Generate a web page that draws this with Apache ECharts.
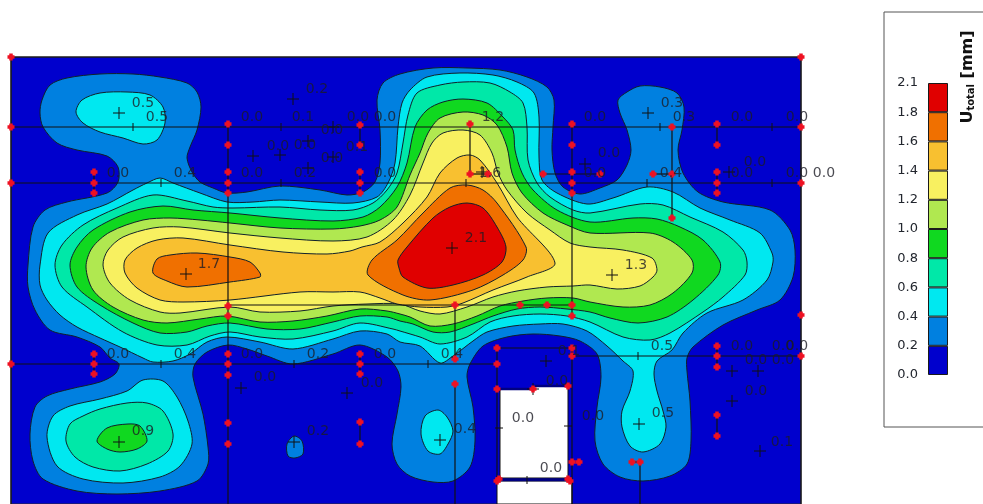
<!DOCTYPE html>
<html><head><meta charset="utf-8">
<style>html,body{margin:0;padding:0;background:#fff;overflow:hidden}#c{width:983px;height:504px;filter:blur(0.3px)}</style>
<script src="https://cdn.jsdelivr.net/npm/echarts@6/dist/echarts.min.js"></script>
</head><body><div id="c"></div>
<script>
const bandColors=['#0000cd','#0080e0','#00e8f0','#00e8a8','#10d820','#b0e850','#f8f060','#f8c030','#f07000','#e00000'];
const legendTicks=['0.0','0.2','0.4','0.6','0.8','1.0','1.2','1.4','1.6','1.8','2.1'];
const plotArea=[[[11,57],[801,57],[801,504],[11,504]]];
const level02=[
[[40,113],[42,100],[50,85],[67,78],[100,74],[133,74],[160,77],[187,83],[197,92],[201,107],[197,130],[190,147],[187,158],[192,172],[200,182],[213,188],[227,193],[247,192],[280,186],[320,190],[347,195],[363,192],[375,182],[380,163],[380,130],[377,100],[383,83],[400,74],[433,68],[467,68],[500,70],[527,77],[547,87],[554,100],[553,127],[552,150],[555,173],[563,187],[580,194],[600,188],[617,180],[627,165],[631,150],[627,130],[620,113],[618,100],[627,92],[640,86],[660,87],[677,93],[684,107],[682,130],[678,150],[683,173],[698,192],[723,202],[770,210],[790,230],[795,250],[793,277],[780,300],[757,310],[723,325],[693,347],[687,358],[687,371],[690,401],[691,441],[687,464],[670,476],[643,481],[620,477],[603,464],[595,441],[597,407],[601,377],[597,354],[580,341],[560,336],[533,334],[507,337],[483,346],[470,364],[467,377],[473,407],[475,441],[470,467],[453,481],[433,482],[410,476],[397,464],[392,444],[397,414],[401,387],[398,371],[387,357],[360,345],[333,354],[293,364],[267,356],[247,349],[228,345],[207,352],[195,364],[193,377],[203,414],[208,447],[208,464],[197,481],[160,491],[117,494],[77,491],[43,479],[33,461],[30,434],[35,407],[47,396],[70,389],[100,382],[115,374],[119,364],[110,358],[100,347],[77,337],[50,330],[35,310],[28,287],[28,265],[33,227],[45,210],[67,202],[107,193],[118,182],[118,167],[107,156],[77,150],[57,143],[43,127]],
[[294,436],[302,441],[303,454],[295,458],[288,456],[287,444]]];
const level04=[
[[76,112],[82,100],[100,93],[127,92],[150,95],[163,107],[165,123],[157,140],[143,144],[123,138],[100,132],[83,123]],
[[40,265],[48,233],[77,215],[107,204],[133,190],[147,183],[160,178],[173,183],[200,193],[227,202],[253,202],[280,200],[320,202],[353,203],[377,197],[388,183],[395,163],[398,127],[402,103],[410,90],[427,77],[460,73],[493,75],[517,82],[534,93],[539,117],[539,157],[542,180],[557,193],[587,204],[613,198],[647,187],[673,192],[700,208],[730,220],[760,233],[772,253],[773,262],[767,280],[743,300],[707,313],[683,333],[672,350],[657,361],[654,374],[657,391],[663,411],[666,427],[660,444],[643,452],[630,446],[622,427],[622,411],[630,391],[633,371],[623,361],[607,346],[587,331],[563,324],[540,324],[513,326],[487,332],[473,341],[453,356],[440,363],[420,346],[400,342],[387,334],[360,331],[333,339],[293,349],[260,342],[227,337],[207,342],[190,354],[173,361],[153,362],[143,358],[120,347],[100,338],[77,327],[60,315],[47,300],[40,285]],
[[143,380],[163,381],[177,397],[188,421],[192,444],[180,466],[160,477],[123,483],[83,479],[57,466],[47,437],[53,416],[70,406],[100,399],[127,391]],
[[438,410],[447,417],[453,431],[448,444],[440,454],[428,451],[421,434],[425,416]]];
const level06=[
[[55,265],[62,245],[83,225],[117,208],[153,195],[187,201],[213,207],[233,208],[280,207],[320,210],[353,210],[373,203],[387,190],[397,173],[403,143],[408,115],[417,93],[440,85],[463,82],[490,83],[510,92],[523,103],[527,127],[528,160],[537,183],[550,197],[573,210],[590,213],[640,204],[663,205],[690,217],[723,232],[743,250],[747,262],[745,275],[723,297],[703,312],[670,333],[650,340],[623,337],[590,322],[567,316],[540,314],[513,316],[490,322],[467,337],[440,344],[420,337],[400,331],[393,329],[360,323],[333,331],[293,339],[260,337],[230,332],[210,336],[187,345],[157,345],[123,332],[87,307],[62,287]],
[[83,416],[100,409],[127,403],[147,403],[163,411],[173,434],[168,451],[147,464],[120,471],[93,467],[75,457],[66,441],[70,424]]];
const level08=[
[[70,265],[77,247],[93,230],[130,212],[163,206],[193,210],[230,213],[280,218],[333,221],[363,217],[380,207],[397,187],[407,163],[415,127],[427,110],[443,102],[463,99],[487,103],[503,117],[513,130],[515,150],[522,173],[533,190],[557,210],[590,222],[633,218],[657,219],[680,227],[703,240],[720,262],[718,275],[693,300],[667,317],[638,323],[610,318],[590,312],[567,309],[540,307],[517,309],[493,316],[473,324],[450,332],[433,332],[413,324],[400,321],[387,317],[360,316],[333,322],[300,329],[267,329],[230,323],[207,326],[187,332],[160,333],[133,323],[100,305],[77,287]],
[[107,428],[128,424],[140,426],[147,441],[137,449],[120,452],[107,449],[97,441]]];
const level10=[
[[86,267],[92,248],[110,232],[143,220],[170,218],[200,220],[230,223],[280,228],[333,229],[360,226],[380,220],[397,207],[410,175],[420,153],[428,133],[440,118],[463,112],[483,115],[497,125],[507,147],[512,173],[522,193],[543,213],[567,225],[590,233],[650,233],[673,242],[692,260],[692,273],[673,293],[650,305],[623,307],[590,302],[573,298],[547,298],[523,301],[500,306],[477,316],[453,324],[430,326],[410,317],[400,314],[387,311],[360,309],[327,316],[293,321],[260,322],[227,316],[200,319],[167,323],[143,320],[113,307],[93,290]]];
const level12=[
[[103,265],[108,250],[123,237],[153,228],[180,227],[230,233],[280,238],[333,241],[367,237],[393,220],[410,195],[423,163],[432,143],[443,133],[463,130],[480,135],[492,153],[498,173],[507,190],[527,213],[550,230],[570,243],[590,247],[623,250],[652,258],[657,270],[653,277],[640,286],[617,289],[590,285],[573,286],[547,287],[517,291],[493,297],[467,307],[440,314],[420,311],[400,304],[367,304],[333,306],[300,311],[260,312],[230,307],[180,313],[160,312],[130,300],[110,283]]];
const level14=[
[[125,260],[137,248],[157,240],[183,238],[230,245],[283,252],[327,254],[350,251],[362,247],[380,242],[403,223],[427,197],[440,173],[457,158],[470,155],[480,160],[497,183],[517,217],[555,263],[527,277],[493,290],[463,303],[447,307],[420,307],[397,304],[380,298],[360,292],[333,292],[300,292],[230,300],[183,302],[160,300],[137,288],[125,273]]];
const level16=[
[[157,259],[170,255],[197,253],[230,257],[250,262],[260,273],[260,277],[230,282],[187,287],[167,281],[153,273]],
[[368,275],[372,260],[397,240],[423,213],[450,188],[467,185],[483,190],[497,203],[526,247],[523,260],[503,275],[473,290],[430,300],[403,295]]];
const level18=[
[[398,260],[407,247],[433,218],[450,207],[467,203],[483,208],[497,227],[506,247],[502,262],[483,275],[453,285],[427,288],[403,277],[399,268]]];
const holes=[[[500,389],[533,389],[533,386],[568,386],[568,478],[500,478]],[[497,481],[572,481],[572,504],[497,504]]];
const meshLines=[
[[11,57],[801,57]],[[11,57],[11,504]],[[801,57],[801,504]],
[[11,127],[801,127]],[[11,183],[801,183]],[[11,364],[497,364]],[[572,356],[801,356]],[[497,348],[572,348]],[[228,305],[572,305]],
[[228,126],[228,504]],[[94,172],[94,193]],[[94,354],[94,374]],[[360,125],[360,145]],[[360,172],[360,193]],[[360,354],[360,374]],[[360,422],[360,444]],
[[455,305],[455,359]],[[455,384],[455,504]],[[572,125],[572,316]],[[572,348],[572,504]],[[497,348],[497,481]],
[[470,124],[470,174]],[[470,174],[488,174]],[[543,174],[600,174]],[[672,127],[672,218]],[[653,174],[672,174]],
[[717,124],[717,145]],[[717,172],[717,193]],[[717,346],[717,367]],[[717,415],[717,436]],[[640,462],[640,504]],[[632,462],[640,462]]];
const edgeLines=[[[497,389],[533,389]],[[497,480],[572,480]],[[568,386],[533,386]]];
const crosses=[[119,113],[293,99],[253,156],[280,155],[308,141],[308,168],[333,157],[333,127],[648,113],[585,164],[482,172],[729,172],[452,248],[612,275],[186,274],[119,442],[241,388],[347,393],[294,442],[546,361],[440,440],[639,424],[732,371],[758,371],[732,401],[760,451],[533,389]];
const vTicks=[[133,127],[281,127],[161,183],[281,183],[660,127],[772,127],[647,183],[772,183],[466,183],[161,364],[294,364],[428,364],[638,356],[527,480]];
const hTicks=[[499,428],[568,426]];
const nodes=[[11,57],[801,57],[11,127],[801,127],[11,183],[801,183],[11,364],[801,315],[801,356],
[228,124],[228,145],[228,172],[228,183],[228,193],[228,306],[228,316],[228,354],[228,364],[228,375],[228,423],[228,444],
[94,172],[94,183],[94,193],[94,354],[94,364],[94,374],[360,125],[360,145],[360,172],[360,183],[360,193],[360,354],[360,364],[360,374],[360,422],[360,444],
[470,124],[470,174],[488,174],[543,174],[572,124],[572,145],[572,172],[572,183],[572,193],[600,174],[653,174],[672,127],[672,174],[672,218],
[717,124],[717,145],[717,172],[717,183],[717,193],[717,346],[717,356],[717,367],[717,415],[717,436],
[455,305],[455,359],[455,384],[520,305],[547,305],[572,305],[572,316],[497,348],[572,348],[497,364],[572,356],[497,389],[533,389],[568,386],[572,462],[579,462],[632,462],[640,462],[497,481],[570,481],[499,479],[568,479]];
const valueLabels=[[143,103,'0.5'],[157,117,'0.5'],[252,117,'0.0'],[317,89,'0.2'],[303,117,'0.1'],[358,117,'0.0'],[385,117,'0.0'],[332,130,'0.0'],[278,146,'0.0'],[305,145,'0.0'],[357,147,'0.1'],[332,158,'0.0'],[118,173,'0.0'],[185,173,'0.4'],[252,173,'0.0'],[305,173,'0.2'],[385,173,'0.0'],[209,264,'1.7'],
[493,117,'1.2'],[490,173,'1.6'],[595,117,'0.0'],[609,153,'0.0'],[595,173,'0.0'],[672,103,'0.3'],[684,117,'0.3'],[671,173,'0.4'],[742,117,'0.0'],[755,162,'0.0'],[742,173,'0.0'],[797,117,'0.0'],[797,173,'0.0'],[824,173,'0.0'],[476,238,'2.1'],[636,265,'1.3'],
[118,354,'0.0'],[185,354,'0.4'],[252,354,'0.0'],[318,354,'0.2'],[385,354,'0.0'],[265,377,'0.0'],[372,383,'0.0'],[143,431,'0.9'],[318,431,'0.2'],
[452,354,'0.4'],[569,351,'0.1'],[557,381,'0.0'],[523,418,'0.0'],[593,416,'0.0'],[465,429,'0.4'],[551,468,'0.0'],[662,346,'0.5'],[663,413,'0.5'],[742,346,'0.0'],[783,346,'0.0'],[797,346,'0.0'],[756,360,'0.0'],[783,360,'0.0'],[756,391,'0.0'],[782,442,'0.1']];

const chart=echarts.init(document.getElementById('c'),null,{renderer:'canvas',width:983,height:504});
const bandLevels=[plotArea,level02,level04,level06,level08,level10,level12,level14,level16,level18];
function polySeries(polys,fill,smooth,stroke){
  return {type:'custom',xAxisIndex:0,yAxisIndex:0,coordinateSystem:'cartesian2d',silent:true,clip:false,animation:false,
    data:polys.map((p,i)=>[i]),
    renderItem(params,api){
      const pts=polys[api.value(0)].map(q=>api.coord(q));
      return {type:'polygon',shape:{points:pts,smooth:smooth},style:{fill:fill,stroke:stroke,lineWidth:1}};
    }};
}
function lineSeries(lines,color,width){
  return {type:'custom',xAxisIndex:0,yAxisIndex:0,silent:true,clip:false,animation:false,
    data:lines.map((p,i)=>[i]),
    renderItem(params,api){
      const l=lines[api.value(0)],a=api.coord(l[0]),b=api.coord(l[1]);
      return {type:'line',shape:{x1:a[0],y1:a[1],x2:b[0],y2:b[1]},style:{stroke:color,lineWidth:width}};
    }};
}
function markSeries(points,dx,dy){
  return {type:'custom',xAxisIndex:0,yAxisIndex:0,silent:true,clip:false,animation:false,
    data:points,
    renderItem(params,api){
      const c=api.coord([api.value(0),api.value(1)]),kids=[];
      if(dx)kids.push({type:'line',shape:{x1:c[0]-dx,y1:c[1],x2:c[0]+dx,y2:c[1]},style:{stroke:'#111',lineWidth:1}});
      if(dy)kids.push({type:'line',shape:{x1:c[0],y1:c[1]-dy,x2:c[0],y2:c[1]+dy},style:{stroke:'#111',lineWidth:1}});
      return {type:'group',children:kids};
    }};
}
const series=[];
bandLevels.forEach((polys,i)=>series.push(polySeries(polys,bandColors[i],i?0.3:0,i?'#10202a':'#333')));
series.push(polySeries(holes,'#fff',0,'#111'));
series.push(lineSeries(meshLines,'#111',1.2));
series.push(lineSeries(edgeLines,'#000080',2.5));
series.push(markSeries(crosses,6,6),markSeries(vTicks,0,4),markSeries(hTicks,4,0));
series.push({type:'scatter',xAxisIndex:0,yAxisIndex:0,silent:true,clip:false,animation:false,data:nodes,
  symbol:'path://M1.5 0H4.5V1.5H6V4.5H4.5V6H1.5V4.5H0V1.5H1.5Z',symbolSize:7,itemStyle:{color:'#ee1122',opacity:1}});
series.push({type:'scatter',xAxisIndex:0,yAxisIndex:0,silent:true,clip:false,animation:false,data:valueLabels,
  symbolSize:1,itemStyle:{color:'transparent'},
  label:{show:true,position:'inside',formatter:p=>p.value[2],color:'#1c1c24',fontFamily:'DejaVu Sans',fontSize:14}});
bandColors.forEach((c,i)=>series.push({type:'bar',xAxisIndex:1,yAxisIndex:1,stack:'bar',silent:true,animation:false,
  barWidth:'100%',data:[1],itemStyle:{color:c,borderColor:'#1a1a1a',borderWidth:1}}));

chart.setOption({
  animation:false,backgroundColor:'#fff',
  grid:[{left:0,top:0,width:983,height:504,show:false},{left:928,top:83,width:20,height:292}],
  xAxis:[{type:'value',gridIndex:0,min:0,max:983,show:false},{type:'category',gridIndex:1,data:['U'],show:false}],
  yAxis:[{type:'value',gridIndex:0,min:0,max:504,inverse:true,show:false},
    {type:'value',gridIndex:1,min:0,max:10,interval:1,axisLine:{show:false},axisTick:{show:false},splitLine:{show:false},
     axisLabel:{margin:10,color:'#22262e',fontFamily:'DejaVu Sans',fontSize:13,formatter:v=>legendTicks[v]}}],
  graphic:[
    {type:'rect',z:-1,silent:true,shape:{x:884,y:12,width:120,height:415},style:{fill:'#fff',stroke:'#555',lineWidth:1}},
    {type:'text',silent:true,x:968,y:77,rotation:Math.PI/2,style:{text:'{a|U}{b|total}{a| [mm]}',align:'center',verticalAlign:'middle',fill:'#111',
      rich:{a:{fontFamily:'DejaVu Sans',fontSize:16,fontWeight:'bold',fill:'#111'},b:{fontFamily:'DejaVu Sans',fontSize:10,fontWeight:'bold',fill:'#111',verticalAlign:'bottom'}}}}
  ],
  series
});
</script></body></html>
